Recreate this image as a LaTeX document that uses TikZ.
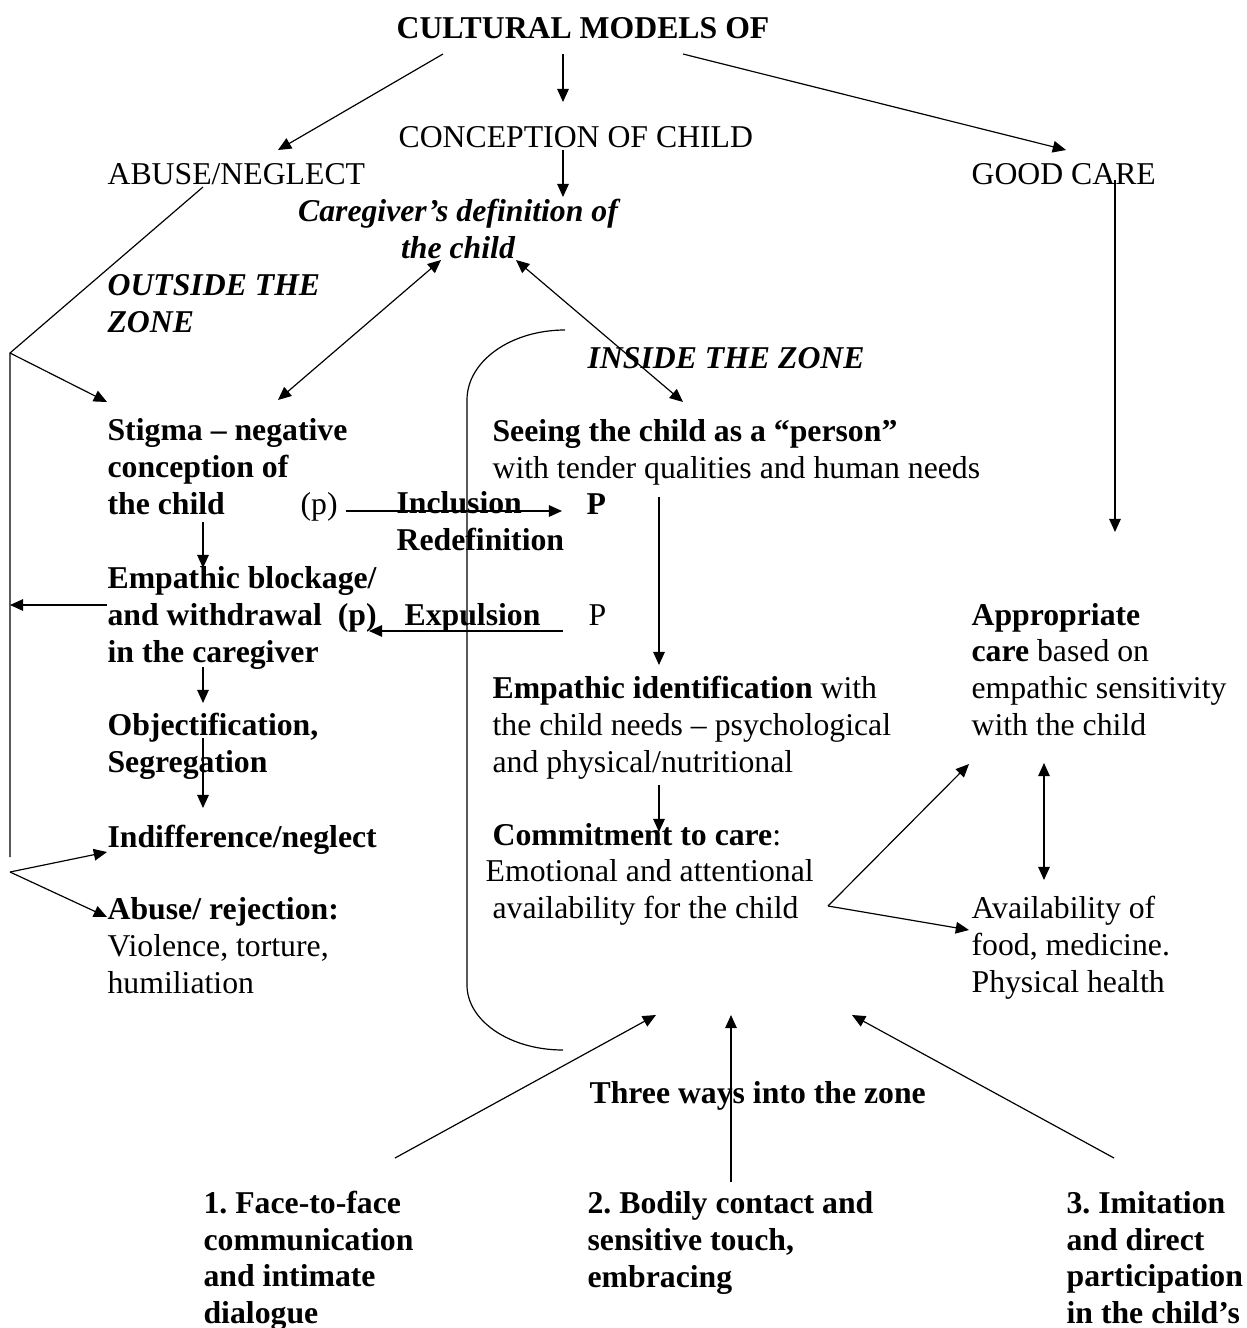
\documentclass[tikz,border=0pt]{standalone}
\usepackage{fontspec}
\setmainfont{Liberation Serif}
\usetikzlibrary{arrows.meta}
\frenchspacing

\begin{document}
\begin{tikzpicture}[x=0.378pt,y=-0.378pt,line width=0.45pt,>={Triangle[length=5pt,width=4.4pt]}]
                \tikzstyle{txt}=[inner sep=0pt,anchor=base west,align=left,font=\fontsize{12}{13.8}\selectfont]
                \tikzstyle{bftxt}=[txt,font=\fontsize{12}{13.8}\selectfont\bfseries]
                \tikzstyle{bitxt}=[txt,font=\fontsize{12}{13.8}\selectfont\bfseries\itshape]
                \clip (0,0) rectangle (1247,1328);

                % top row (multi-line nodes sit on their last baseline)
                \node[bftxt] (cult) at (396,38) {CULTURAL MODELS OF};
                \node[txt] (concep) at (398,147) {CONCEPTION OF CHILD};
                \node[txt] (abuse) at (107,184) {ABUSE/NEGLECT};
                \node[txt] (good) at (971,184) {GOOD CARE};
                \node[bitxt,anchor=base,align=center] (defin) at (458,258) {Caregiver’s definition of\\the child};
                \node[bitxt] (outside) at (107,332) {OUTSIDE THE\\ZONE};
                \node[bitxt] (inside) at (587,368) {INSIDE THE ZONE};

                % outside the zone
                \node[bftxt] (stigma) at (107,514) {Stigma – negative\\conception of\\the child};
                \node[txt] (pleft) at (300,514) {(p)};
                \node[bftxt] (inclu) at (396,550) {Inclusion\\Redefinition};
                \node[bftxt] (pin) at (586,514) {P};
                \node[bftxt] (block) at (107,662) {Empathic blockage/\\and withdrawal~~(p)\\in the caregiver};
                \node[bftxt] (expul) at (404,625) {Expulsion};
                \node[txt] (pout) at (588,625) {P};
                \node[bftxt] (objec) at (107,772) {Objectification,\\Segregation};
                \node[bftxt] (indiff) at (107,847) {Indifference/neglect};
                \node[txt] (abrej) at (107,993) {\textbf{Abuse/ rejection:}\\Violence, torture,\\humiliation};

                % inside the zone
                \node[txt] (seeing) at (492,478) {\textbf{Seeing the child as a “person”}\\with tender qualities and human needs};
                \node[txt] (identif) at (492,772) {\textbf{Empathic identification} with\\the child needs – psychological\\and physical/nutritional};
                \node[txt] (commit) at (492,918) {\textbf{Commitment to care}:\\\hspace*{-2.6pt}Emotional and attentional\\availability for the child};
                \node[txt] (approp) at (971,735) {\textbf{Appropriate}\\\textbf{care} based on\\empathic sensitivity\\with the child};
                \node[txt] (avail) at (971,992) {Availability of\\food, medicine.\\Physical health};

                % ways in
                \node[bftxt] (three) at (589,1103) {Three ways into the zone};
                \node[bftxt] (way1) at (203,1323) {1. Face-to-face\\communication\\and intimate\\dialogue};
                \node[bftxt] (way2) at (587,1287) {2. Bodily contact and\\sensitive touch,\\embracing};
                \node[bftxt] (way3) at (1066,1323) {3. Imitation\\and direct\\participation\\in the child’s};

                \foreach \name/\x/\y in {cult-l/443/54, cult-m/563/54, cult-r/683/54, abuse-in/278/150,
                        concep-in/563/102, concep-out/563/150, defin-in/563/197, good-in/1066/150,
                        abuse-out/203/187, out-top/10/353, out-bot/10/857, out-fork/10/872,
                        stigma-in/107/402, stigma-r/278/400, defin-l/441/260, defin-r/516/260, seeing-in/683/402,
                        pleft-out/346/511, pin-in/562/511, pout-out/563/631, block-in/369/631,
                        block-out/107/605, out-mid/10/605,
                        stigma-dn/203/522, block-up/203/568, block-dn/203/667, objec-up/203/703,
                        objec-dn/203/738, indiff-up/203/808, indiff-in/107/852, abrej-in/107/917,
                        seeing-dn/659/497, identif-up/659/665, identif-dn/659/785, commit-up/659/832,
                        good-out/1115/180, approp-in/1115/532, commit-out/828/906,
                        approp-l/969/764, avail-l/969/930, approp-dn/1044/763, avail-up/1044/880,
                        way1-out/395/1158, way2-out/731/1182, way3-out/1114/1158,
                        zone-l/656/1015, zone-m/731/1015, zone-r/852/1015}
                        \coordinate (\name) at (\x,\y);

                \foreach \from/\to in {cult-l/abuse-in, cult-m/concep-in, cult-r/good-in, concep-out/defin-in,
                        out-top/stigma-in, pleft-out/pin-in, pout-out/block-in, block-out/out-mid,
                        stigma-dn/block-up, block-dn/objec-up, objec-dn/indiff-up,
                        out-fork/indiff-in, out-fork/abrej-in,
                        seeing-dn/identif-up, identif-dn/commit-up, good-out/approp-in,
                        commit-out/approp-l, commit-out/avail-l,
                        way1-out/zone-l, way2-out/zone-m, way3-out/zone-r}
                        \draw[->] (\from) -- (\to);

                \foreach \from/\to in {defin-l/stigma-r, defin-r/seeing-in, approp-dn/avail-up}
                        \draw[<->] (\from) -- (\to);

                \draw (abuse-out) -- (out-top) -- (out-bot);

                % boundary of the zone
                \draw (565,330) .. controls (511,330) and (467,361) .. (467,400) -- (467,985)
                        .. controls (467,1021) and (510,1050) .. (563,1050);
\end{tikzpicture}
\end{document}
